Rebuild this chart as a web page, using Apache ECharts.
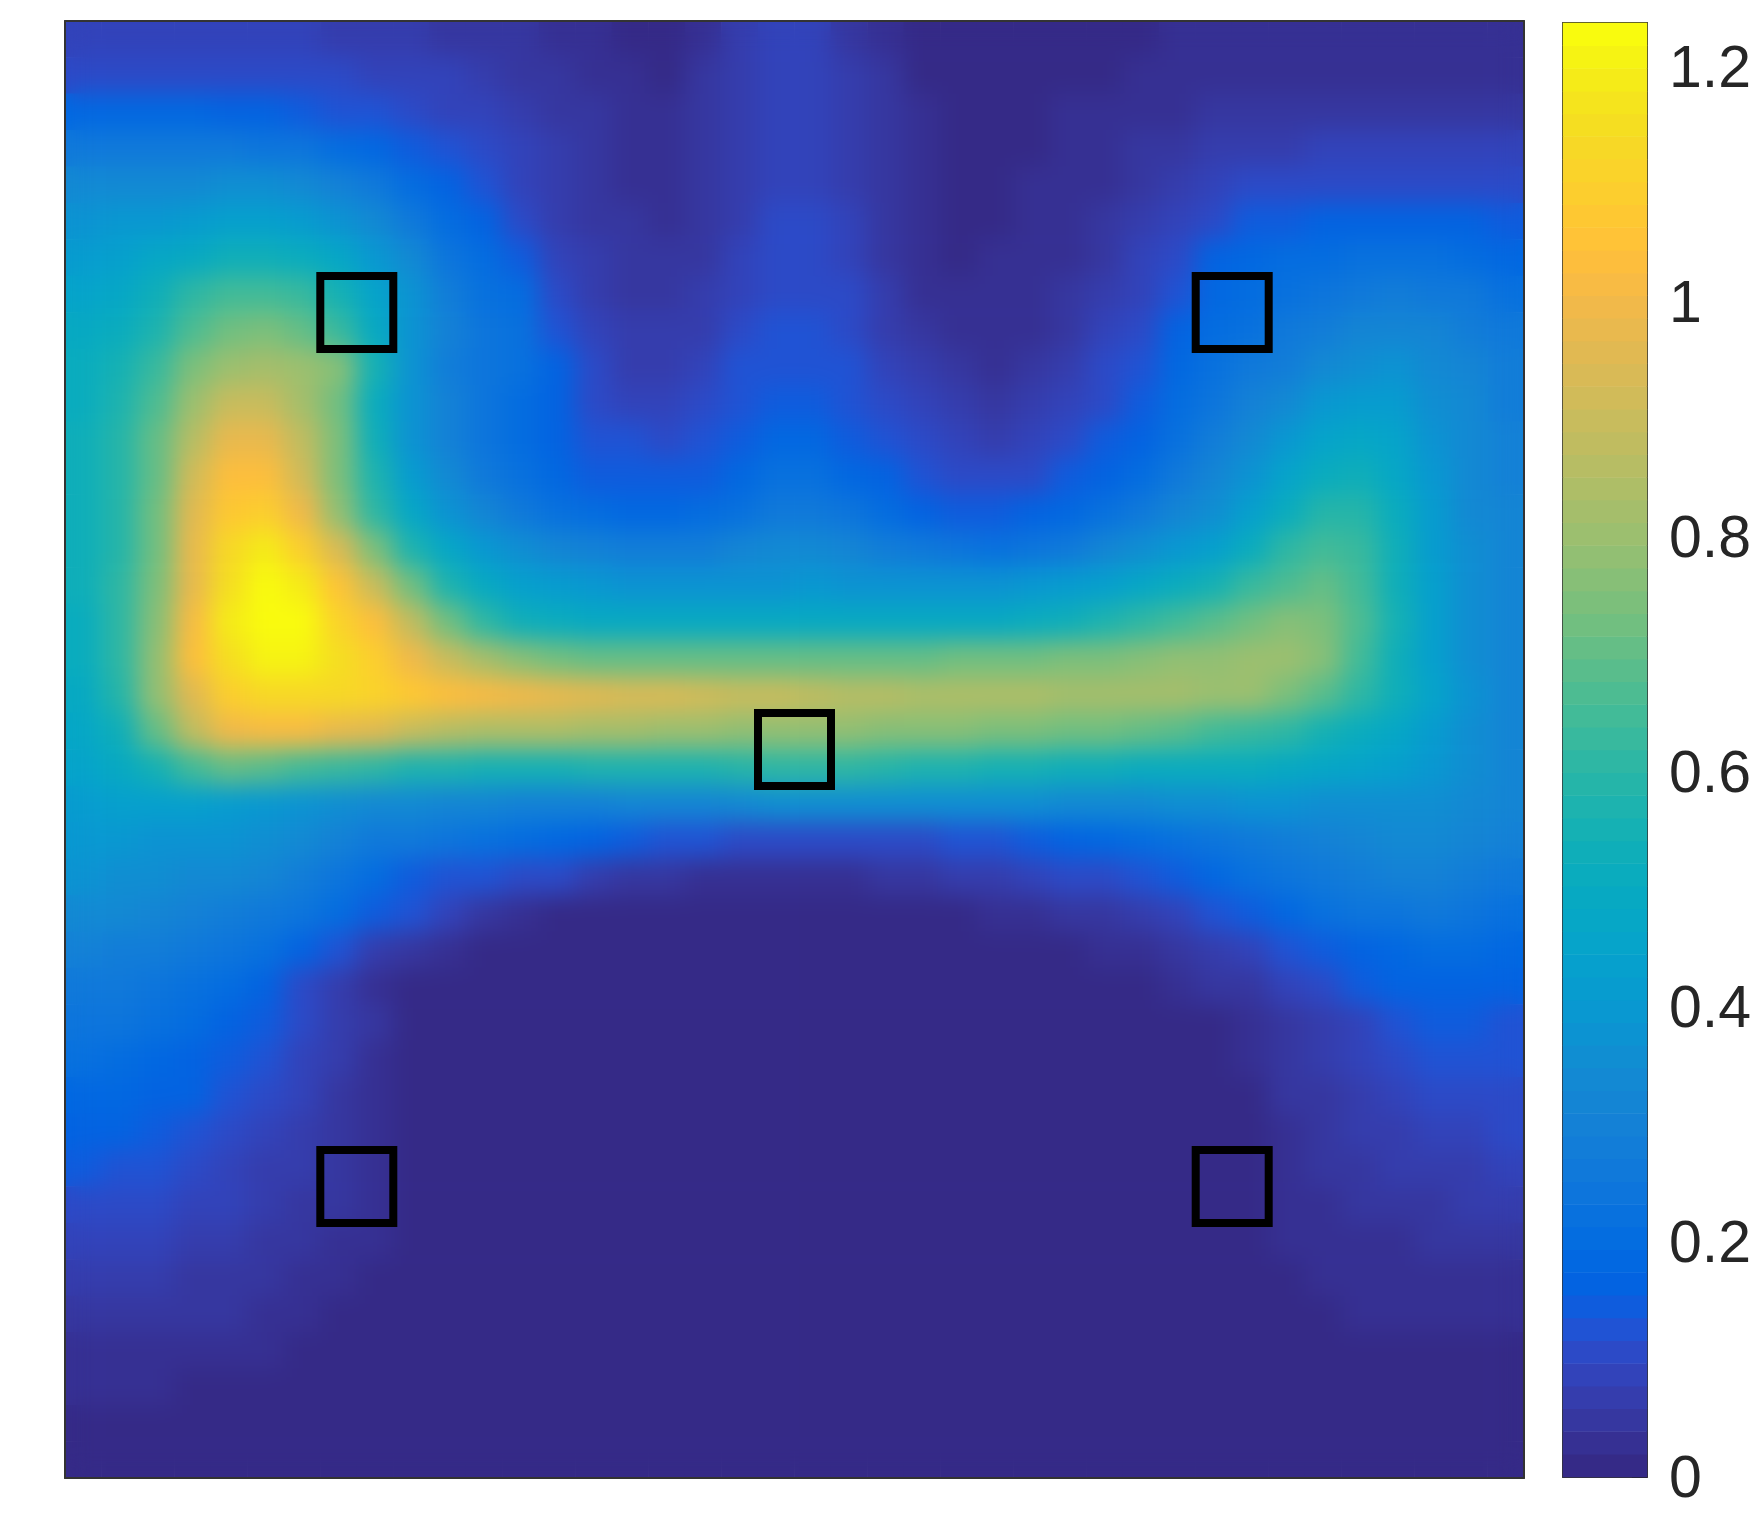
<!DOCTYPE html>
<html>
<head>
<meta charset="utf-8">
<title>heatmap</title>
<script src="https://cdn.jsdelivr.net/npm/echarts@6/dist/echarts.min.js"></script>
<style>
  html, body { margin: 0; padding: 0; background: #fff; }
  #main { width: 1754px; height: 1535px; }
  /* second copy of the field sits on its own canvas, softened and kept inside the plot box */
  #main canvas[data-zr-dom-id="zr_1"] {
    filter: blur(12px);
    clip-path: inset(21px 230px 57px 65px);
  }
</style>
</head>
<body>
<div id="main"></div>
<script>
// field values, x100, top row first, left to right
var zRows = [
  [8,8,8,8,8,8,7.8,7.7,7,6.5,5.8,5,4.3,3.8,2.2,1.5,1.5,3,6,9,9,5.5,2.5,1.5,1,1,1,1,1,1.8,2.2,2.5,2.5,2.5,2.5,2.5,2.5,2.5,2.5,2.5],
  [10,10.5,10.8,10.8,10.8,10.5,10,9.8,9.5,9,8,7,5.8,4.8,3.6,2.4,1.7,4,7,9,9,6.5,3.9,1.8,1,1,1,1,1.5,2.1,2.3,2.6,3,3.7,3.7,3.7,3.7,3.7,3.7,3.7],
  [18,18,18,17.5,17,16,15,13.5,12,11,9.5,8,7,5.5,4.2,2.8,2,4.2,7,9,9,6.8,4,2,1,1,1,2,2.4,3,3.7,4.2,4.6,5,5.2,5.4,5.5,5.5,5.5,5.5],
  [26,26,26,26,26,25,24,21,18,15,12,9.7,8,6,4.8,3.2,2.6,4.4,7,9,9,7,4.2,2.2,1,1,1.6,2.2,3,4,5.5,6.5,7.3,7.7,7.9,8,8,8,8,8],
  [33,33,34,34,35,35,33,30,26,21,16,12,9.5,6.7,5.3,3.8,3.2,4.7,7.2,9,9,7.5,4.5,2.4,1,1.3,2,2.7,3.8,5.3,7.2,9,10.5,11,11.5,11.5,11.5,11.5,11,11],
  [38,39,40,41,43,44,42,38,33,27,21,16,11.5,7.5,5.8,4.3,3.7,5,7.5,10,10,8,5,2.5,1.5,1.7,2.3,3.2,4.5,6.5,9,11.6,14,15,16,16.5,16.5,16,15.5,15],
  [42,44,47,50,54,54,52,47,40,33,25,20,15,9,6.5,5,4.5,5.8,8,10.5,10.5,9,5.5,3,1.7,2,2.7,3.7,5.5,8,11,15.5,18,20,21,22,22.5,22,21,19],
  [46,48,54,60,65,65,62,55,46,37,29,23,20,11,7,5.8,5.5,6.6,9,11,11,10,6.5,3.5,2.8,2.6,3,4,6.5,9.5,13,18,21,23,25,27,27.5,27,26,23],
  [49,52,57,67,72,74,70,62,49,38,30,25,22,13.5,8.5,6.7,6.5,7.6,10,12,12,11,7,4.5,3.8,3.3,3.5,5,8,11.5,15.5,20,23,26,28,31,32,31,29,26],
  [51,55,62,74,81,83,80,76,55,38,29,25,22,16,10,7,7.6,9,12,13.2,13.2,12,9,6,5,3.6,4,6.5,10,13,18,22,26,29,33,36,37,34,31,28],
  [52,57,67,80,90,90,82,72,52,37,30,25,21,17,11,8.7,9,11,13,15,15,13,10,8,6.5,5.2,6,8,11,15,20,25,30,34,39,42,41,36,33,29],
  [53,59,70,87,98,97,88,74,54,38,30,25,21,16,13,12,11.6,13,15,18,18,15,12,10,8.5,7,8,11,14,17,22,28,33,39,45,48,45,37,33,30],
  [54,59,71,92,104,104,92,74,57,42,33,26,22,18,15,14,14.5,15,18,22,22,19,16,13,11,10,11,14,17,21,26,31,37,45,51,53,48,39,33,30],
  [54,59,73,95,108,110,99,78,60,47,37,31,27,22,20,19,19,20,23,27,27,24,20,17,15,14.5,16,19,23,27,31,36,44,52,59,59,51,41,34,31],
  [54,59,72,98,113,118,110,94,74,58,47,40,36,32,30,28,28,29,31,33,33,31,29,26,24,22,24,27,31,35,39,44,52,60,65,62,53,42,35,31],
  [53,60,75,97,116,122,118,106,90,72,57,49,44,41,39,38,38,38,38,38,39,38,38,38,38,38,39,41,44,47,51,56,62,67,70,65,54,44,36,31],
  [52,60,77,101,118,124,124,112,103,88,72,60,54,51,50,50,50,50,50,50,50,50,50,50,50,50,52,54,57,60,64,69,73,76,74,66,55,44,36,31],
  [51,61,78,103,116,120,120,116,110,100,90,82,77,72,71,71,71,71,71,71,71,71,71,71,72,72,73,74,75,76,78,79,80,80,76,65,54,44,36,31],
  [49,59,78,96,109,113,114,114,112,108,104,102,100,98,96,94,93,91,90,89,88,87,86,85,85,84,84,83,83,83,82,81,80,75,68,60,53,45,38,32],
  [47,54,70,88,100,102,101,98,95,90,87,85,84,84,83,82,81,80,79,78,78,78,77,77,76,75,74,73,72,70,68,65,63,60,56,52,48,42,36,32],
  [45,49,56,64,70,68,65,62,60,58,57,56,56,56,57,57,58,58,59,60,60,60,59,58,57,56,55,54,53,52,52,52,51,50,48,46,44,40,36,32],
  [42,43,43,43,41,39,37,36,34,33,32,31,30,30,30,31,31,32,33,35,36,36,36,36,36,35,35,34,34,34,35,36,37,37,36,36,35.5,35,34,32],
  [40,39,38.5,38,37,35,33,30,27,25.5,24,22,20,18.5,16,14,13,12,11,10,10,10,10.5,11,12,13,14.5,16,18,20,22,24,26,28.5,30,31.5,33,33,32,30],
  [37,36,35,34,33,31,28,24,20.5,15,13.5,12.5,11.6,10,7.7,5.8,4.6,3.6,3.3,3,3,3.5,4,5.5,6.2,6.5,7.8,9.7,11,12,15,19,22,25,27,29,30,30.5,29,26.5],
  [34,33,32,30,28,26,23.5,20,15,12,8,5,3.5,1.5,1,1,1,1,1,1,1,1,1,1,1,2,3,3.9,5,6.5,9,12.5,15,19,21.5,23.5,25,25.5,25,23],
  [30,29,28,26,24,21.5,17,12,7,4.2,2,1,1,1,1,1,1,1,1,1,1,1,1,1,1,1,1,1,2,3,3.9,6.3,9,11.7,14.5,16,18,19.5,20,19],
  [27,26,25,23,20,16,10,6.5,3.6,1.9,1,1,1,1,1,1,1,1,1,1,1,1,1,1,1,1,1,1,1,1,2,4,5.5,8.5,11.5,14,16,17,17,16],
  [25,24,22,20,17,14,11,7,4.5,1.5,1,1,1,1,1,1,1,1,1,1,1,1,1,1,1,1,1,1,1,1,1,1.5,3.5,5,7,9.5,12,14,14,13.5],
  [22,21,19,17,15,12.5,9.5,6,3.5,1.5,1,1,1,1,1,1,1,1,1,1,1,1,1,1,1,1,1,1,1,1,1,1,3,4.5,6,8,10.5,12,12.5,12],
  [19,18,17,15.5,13,11,8,5.5,3,1,1,1,1,1,1,1,1,1,1,1,1,1,1,1,1,1,1,1,1,1,1,1,1.5,4,5.5,7,9,10.5,11,11.5],
  [17,16,15,13,11.5,9,7,5,3,1,1,1,1,1,1,1,1,1,1,1,1,1,1,1,1,1,1,1,1,1,1,1,1,3.6,5,6,7.5,8.5,9.5,10],
  [14,13,12,11,9,7.5,6,4.5,2.5,1,1,1,1,1,1,1,1,1,1,1,1,1,1,1,1,1,1,1,1,1,1,1,1.5,3,4,5.5,6.5,7,7.7,8],
  [11,10.5,10,9,8,6.5,5,4,2.5,1,1,1,1,1,1,1,1,1,1,1,1,1,1,1,1,1,1,1,1,1,1,1,1,2.7,3.5,4.3,5,5.6,6,6],
  [9,8.5,8,7,6.5,4.8,4,3,2,1,1,1,1,1,1,1,1,1,1,1,1,1,1,1,1,1,1,1,1,1,1,1,1,2.5,3,3.3,3.8,4.2,4.5,5],
  [7,6.6,6,5.5,5,4,3,2.5,1,1,1,1,1,1,1,1,1,1,1,1,1,1,1,1,1,1,1,1,1,1,1,1,1,1.5,2,3,3,3.5,3.7,3.7],
  [5,4.6,4.5,4,4,3,2.5,1,1,1,1,1,1,1,1,1,1,1,1,1,1,1,1,1,1,1,1,1,1,1,1,1,1,1,1,2,2,2.5,2.5,3],
  [3,3,3,3,3,2,1,1,1,1,1,1,1,1,1,1,1,1,1,1,1,1,1,1,1,1,1,1,1,1,1,1,1,1,1,1,1,1,1,1],
  [2,2,2,1,1,1,1,1,1,1,1,1,1,1,1,1,1,1,1,1,1,1,1,1,1,1,1,1,1,1,1,1,1,1,1,1,1,1,1,1],
  [1,1,1,1,1,1,1,1,1,1,1,1,1,1,1,1,1,1,1,1,1,1,1,1,1,1,1,1,1,1,1,1,1,1,1,1,1,1,1,1],
  [1,1,1,1,1,1,1,1,1,1,1,1,1,1,1,1,1,1,1,1,1,1,1,1,1,1,1,1,1,1,1,1,1,1,1,1,1,1,1,1]
];

// the five small squares
var boxX = [0.2, 0.8, 0.5, 0.2, 0.8];
var boxY = [0.8, 0.8, 0.5, 0.2, 0.2];

// colorbar
var barMax = 1.2375;
var barTicks = [0, 0.2, 0.4, 0.6, 0.8, 1, 1.2];
var parula = [
  [0.2081,0.1663,0.5292],[0.2116,0.1898,0.5777],[0.2123,0.2138,0.6270],[0.2081,0.2386,0.6771],
  [0.1959,0.2645,0.7279],[0.1707,0.2919,0.7792],[0.1253,0.3242,0.8303],[0.0591,0.3598,0.8683],
  [0.0117,0.3875,0.8820],[0.0060,0.4086,0.8828],[0.0165,0.4266,0.8786],[0.0329,0.4430,0.8720],
  [0.0498,0.4586,0.8641],[0.0629,0.4737,0.8554],[0.0723,0.4887,0.8467],[0.0779,0.5040,0.8384],
  [0.0793,0.5200,0.8312],[0.0749,0.5375,0.8263],[0.0641,0.5570,0.8240],[0.0488,0.5772,0.8228],
  [0.0343,0.5966,0.8199],[0.0265,0.6137,0.8135],[0.0239,0.6287,0.8038],[0.0231,0.6418,0.7913],
  [0.0228,0.6535,0.7768],[0.0267,0.6642,0.7607],[0.0384,0.6743,0.7436],[0.0590,0.6838,0.7254],
  [0.0843,0.6928,0.7062],[0.1133,0.7015,0.6859],[0.1453,0.7098,0.6646],[0.1801,0.7177,0.6424],
  [0.2178,0.7250,0.6193],[0.2586,0.7317,0.5954],[0.3022,0.7376,0.5712],[0.3482,0.7424,0.5473],
  [0.3953,0.7459,0.5244],[0.4420,0.7481,0.5033],[0.4871,0.7491,0.4840],[0.5300,0.7491,0.4661],
  [0.5709,0.7485,0.4494],[0.6099,0.7473,0.4337],[0.6473,0.7456,0.4188],[0.6834,0.7435,0.4044],
  [0.7184,0.7411,0.3905],[0.7525,0.7384,0.3768],[0.7858,0.7356,0.3633],[0.8185,0.7327,0.3498],
  [0.8507,0.7299,0.3360],[0.8824,0.7274,0.3217],[0.9139,0.7258,0.3063],[0.9450,0.7261,0.2886],
  [0.9739,0.7314,0.2666],[0.9938,0.7455,0.2403],[0.9990,0.7653,0.2164],[0.9955,0.7861,0.1967],
  [0.9880,0.8066,0.1794],[0.9789,0.8271,0.1633],[0.9697,0.8481,0.1475],[0.9626,0.8705,0.1309],
  [0.9589,0.8949,0.1132],[0.9598,0.9218,0.0948],[0.9661,0.9514,0.0755],[0.9763,0.9831,0.0538]
];

var step = barMax / parula.length;
var pieces = parula.map(function (c, i) {
  return {
    min: i * step,
    max: i == parula.length - 1 ? 2 : (i + 1) * step,
    color: 'rgb(' + c.map(function (v) { return Math.round(v * 255); }).join(',') + ')'
  };
});

var cols = zRows[0].map(function (v, i) { return i; });
var rows = zRows.map(function (r, j) { return j; });
var fieldData = [];
zRows.forEach(function (r, j) {
  r.forEach(function (v, i) {
    fieldData.push([i, j, v / 100]);
  });
});
var barData = parula.map(function (c, i) { return [0, i, (i + 0.5) * step]; });
var boxData = boxX.map(function (x, i) { return [x, boxY[i]]; });

var frame = { show: true, onZero: false, lineStyle: { color: '#333', width: 2 } };
var hidden = { show: false };

var chart = echarts.init(document.getElementById('main'), null, { renderer: 'canvas' });
chart.setOption({
  animation: false,
  backgroundColor: '#fff',
  grid: [
    { left: 65, top: 21, width: 1459, height: 1457 },
    { left: 1563, top: 23, width: 85, height: 1454 }
  ],
  xAxis: [
    { type: 'category', gridIndex: 0, zlevel: 2, data: cols, position: 'bottom', axisLine: frame, axisTick: hidden, axisLabel: hidden, splitLine: hidden },
    { type: 'value', gridIndex: 0, zlevel: 2, min: 0, max: 1, position: 'top', axisLine: frame, axisTick: hidden, axisLabel: hidden, splitLine: hidden },
    { type: 'category', gridIndex: 1, zlevel: 2, data: [0], position: 'bottom', axisLine: frame, axisTick: hidden, axisLabel: hidden, splitLine: hidden },
    { type: 'value', gridIndex: 1, zlevel: 2, min: 0, max: 1, position: 'top', axisLine: frame, axisTick: hidden, axisLabel: hidden, splitLine: hidden }
  ],
  yAxis: [
    { type: 'category', gridIndex: 0, zlevel: 2, data: rows, inverse: true, position: 'left', axisLine: frame, axisTick: hidden, axisLabel: hidden, splitLine: hidden },
    { type: 'value', gridIndex: 0, zlevel: 2, min: 0, max: 1, position: 'right', axisLine: frame, axisTick: hidden, axisLabel: hidden, splitLine: hidden },
    { type: 'category', gridIndex: 1, zlevel: 2, data: parula.map(function (c, i) { return i; }), position: 'left', axisLine: frame, axisTick: hidden, axisLabel: hidden, splitLine: hidden },
    {
      type: 'value', gridIndex: 1, zlevel: 2, min: 0, max: barMax, interval: 0.2, position: 'right',
      axisLine: frame,
      axisTick: { show: true, inside: true, length: 15, lineStyle: { color: '#262626', width: 2 } },
      axisLabel: {
        show: true, margin: 22, showMaxLabel: false, verticalAlign: 'top', lineHeight: 8,
        color: '#262626', fontFamily: 'Liberation Sans', fontSize: 59,
        formatter: function (v) { return barTicks.indexOf(v) >= 0 ? String(v) : ''; }
      },
      splitLine: hidden
    }
  ],
  visualMap: {
    type: 'piecewise', show: false, dimension: 2, seriesIndex: [0, 1, 2], pieces: pieces
  },
  series: [
    { type: 'heatmap', xAxisIndex: 0, yAxisIndex: 0, zlevel: 0, data: fieldData, itemStyle: { borderWidth: 0 } },
    { type: 'heatmap', xAxisIndex: 0, yAxisIndex: 0, zlevel: 1, data: fieldData, itemStyle: { borderWidth: 0 } },
    { type: 'heatmap', xAxisIndex: 2, yAxisIndex: 2, zlevel: 2, data: barData, itemStyle: { borderWidth: 0 } },
    {
      type: 'scatter', xAxisIndex: 1, yAxisIndex: 1, zlevel: 2, data: boxData, symbol: 'rect', symbolSize: 73, z: 5,
      itemStyle: { color: 'rgba(0,0,0,0)', borderColor: '#000', borderWidth: 8, opacity: 1 }
    }
  ]
});
</script>
</body>
</html>
